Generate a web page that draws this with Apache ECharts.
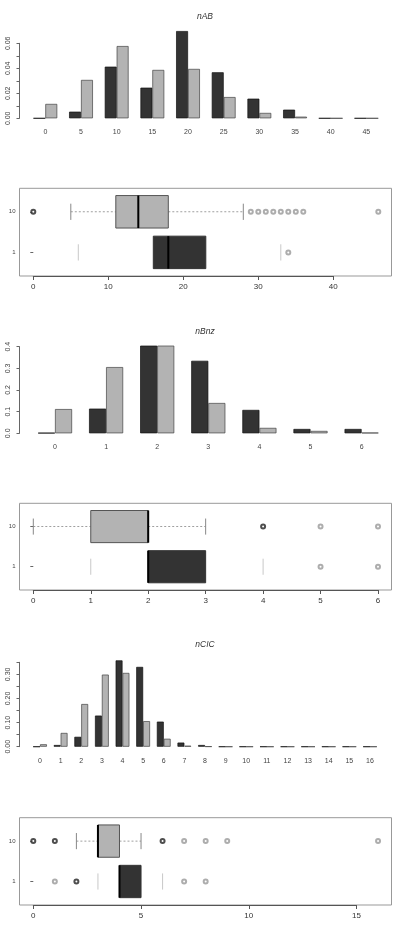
<!DOCTYPE html>
<html>
<head>
<meta charset="utf-8">
<title>nAB / nBnz / nCIC</title>
<style>
  html,body{margin:0;padding:0;background:#fff;}
  #main{width:395px;height:939px;}
</style>
<script src="https://cdn.jsdelivr.net/npm/echarts@6/dist/echarts.min.js"></script>
</head>
<body>
<div id="main"></div>
<script>
// ---- bar charts (relative frequency), dark = group "1", light = group "10"
var catAB = ['0','5','10','15','20','25','30','35','40','45'];
var darkAB = [0, 0.0053, 0.0413, 0.0245, 0.0698, 0.0368, 0.0157, 0.0069, 0, 0];
var lightAB = [0.0115, 0.0307, 0.0578, 0.0387, 0.0395, 0.0170, 0.0043, 0.0013, 0, 0];
var ticksAB = ['0.00', '', '0.02', '', '0.04', '', '0.06'];

var catBnz = ['0','1','2','3','4','5','6'];
var darkBnz = [0.002, 0.114, 0.405, 0.335, 0.108, 0.020, 0.020];
var lightBnz = [0.112, 0.306, 0.405, 0.140, 0.025, 0.011, 0.003];
var ticksBnz = ['0.0', '0.1', '0.2', '0.3', '0.4'];

var catCIC = ['0','1','2','3','4','5','6','7','8','9','10','11','12','13','14','15','16'];
var darkCIC = [0, 0.007, 0.041, 0.129, 0.358, 0.331, 0.104, 0.017, 0.007, 0, 0, 0, 0, 0, 0, 0, 0];
var lightCIC = [0.010, 0.057, 0.177, 0.299, 0.306, 0.106, 0.033, 0.004, 0.001, 0, 0, 0, 0, 0, 0, 0, 0];
var ticksCIC = ['0.00', '', '0.10', '', '0.20', '', '0.30', ''];

// ---- boxplots: [lower whisker, Q1, median, Q3, upper whisker]
var boxGroups = ['1', '10'];   // bottom, top
var boxAB_dark = [6, 16, 18, 23, 33];
var boxAB_light = [5, 11, 14, 18, 28];
var outAB_dark = [34];
var outAB_light = [29, 30, 31, 32, 33, 34, 35, 36, 46];
var denseAB_light = [0];

var boxBnz_dark = [1, 2, 2, 3, 4];
var boxBnz_light = [0, 1, 2, 2, 3];
var outBnz_dark = [5, 6];
var outBnz_light = [5, 6];
var denseBnz_light = [4];

var boxCIC_dark = [3, 4, 4, 5, 6];
var boxCIC_light = [2, 3, 3, 4, 5];
var outCIC_dark = [1, 7, 8];
var denseCIC_dark = [2];
var outCIC_light = [7, 8, 9, 16];
var denseCIC_light = [0, 1, 6];

var DARK = '#333333', LIGHT = '#b3b3b3';
var FONT = 'Liberation Sans, Arial, sans-serif';

var grid = [], xAxis = [], yAxis = [], series = [], graphic = [];

function addGrid(g) { grid.push(g); return grid.length - 1; }

function barPanel(title, cats, dark, light, ticks, P) {
  var gb = addGrid({left: P.left, top: P.top, width: P.width, height: P.height});
  xAxis.push({gridIndex: gb, type: 'category', data: cats,
    axisLine: {show: false}, axisTick: {show: false},
    axisLabel: {interval: 0, fontSize: 7, margin: P.lm, color: '#444', fontFamily: FONT}});
  yAxis.push({gridIndex: gb, type: 'value', min: 0, max: P.max, show: false});
  series.push({type: 'bar', xAxisIndex: gb, yAxisIndex: gb, data: dark, silent: true,
    barGap: '0%', barCategoryGap: '33.3%',
    itemStyle: {color: DARK, borderColor: '#111', borderWidth: 0.7}});
  series.push({type: 'bar', xAxisIndex: gb, yAxisIndex: gb, data: light, silent: true,
    barGap: '0%', barCategoryGap: '33.3%',
    itemStyle: {color: LIGHT, borderColor: '#444', borderWidth: 0.7}});

  // visible y axis, only over the tick range (R style)
  var ga = addGrid({left: 19.5, top: P.atop, width: 300, height: P.aheight});
  xAxis.push({gridIndex: ga, type: 'value', show: false, min: 0, max: 1});
  yAxis.push({gridIndex: ga, type: 'value', min: 0, max: P.amax, interval: P.aint,
    splitLine: {show: false},
    axisLine: {show: true, lineStyle: {color: '#666', width: 1}},
    axisTick: {show: true, length: 3, lineStyle: {color: '#666'}},
    axisLabel: {rotate: 90, fontSize: 7, margin: 8, color: '#444', fontFamily: FONT,
      formatter: function (v, i) { return ticks[i]; }}});

  graphic.push({type: 'text', x: 205, y: P.ty, silent: true,
    style: {text: title, textAlign: 'center', verticalAlign: 'middle',
      font: 'italic 8.5px ' + FONT, fill: '#333'}});
}

function boxSeries(gd, row, stats, st) {
  return {type: 'custom', xAxisIndex: gd, yAxisIndex: gd, silent: true,
    data: [[row].concat(stats)],
    encode: {x: [1, 2, 3, 4, 5], y: 0},
    renderItem: function (params, api) {
      var c = api.value(0);
      var lo = api.coord([api.value(1), c]);
      var q1 = api.coord([api.value(2), c]);
      var md = api.coord([api.value(3), c]);
      var q3 = api.coord([api.value(4), c]);
      var hi = api.coord([api.value(5), c]);
      var h = api.size([0, 1])[1] * 0.4;
      var cap = h * 0.5;
      var y = lo[1];
      var kids = [];
      if (st.whisker) {
        var ws = {stroke: st.whisker, lineWidth: 0.8, lineDash: [2, 2]};
        kids.push({type: 'line', shape: {x1: lo[0], y1: y, x2: q1[0], y2: y}, style: ws});
        kids.push({type: 'line', shape: {x1: q3[0], y1: y, x2: hi[0], y2: y}, style: ws});
      }
      var cs = {stroke: st.cap, lineWidth: 1};
      kids.push({type: 'line', shape: {x1: lo[0], y1: y - cap, x2: lo[0], y2: y + cap}, style: cs});
      kids.push({type: 'line', shape: {x1: hi[0], y1: y - cap, x2: hi[0], y2: y + cap}, style: cs});
      kids.push({type: 'rect', shape: {x: q1[0], y: y - h, width: q3[0] - q1[0], height: 2 * h},
        style: {fill: st.fill, stroke: st.border, lineWidth: 1}});
      kids.push({type: 'line', shape: {x1: md[0], y1: y - h, x2: md[0], y2: y + h},
        style: {stroke: '#000', lineWidth: 2}});
      return {type: 'group', children: kids};
    }};
}

function outSeries(gd, row, vals, dense) {
  return {type: 'scatter', xAxisIndex: gd, yAxisIndex: gd, silent: true, clip: false,
    symbol: 'emptyCircle', symbolSize: dense ? 4 : 4,
    itemStyle: {color: dense ? '#222' : '#999', borderWidth: dense ? 1.6 : 0.6},
    data: vals.map(function (v) { return [v, row]; })};
}

function boxPanel(rows, P) {
  var gf = addGrid({left: 19.5, top: P.ftop, width: 372, height: P.fheight,
    show: true, borderColor: '#999', borderWidth: 1});
  xAxis.push({gridIndex: gf, type: 'value', show: false, min: 0, max: 1});
  yAxis.push({gridIndex: gf, type: 'value', show: false, min: 0, max: 1});

  var gd = addGrid({left: 33.3, top: P.top, width: P.width, height: P.height});
  xAxis.push({gridIndex: gd, type: 'value', min: 0, max: P.max, interval: P.interval,
    offset: P.xoff, splitLine: {show: false},
    axisLine: {show: true, onZero: false, lineStyle: {color: '#555'}},
    axisTick: {show: true, length: 4, lineStyle: {color: '#555'}},
    axisLabel: {fontSize: 8, margin: 7, color: '#333', fontFamily: FONT}});
  yAxis.push({gridIndex: gd, type: 'category', data: boxGroups, offset: 13.8,
    axisLine: {show: false},
    axisTick: {show: true, alignWithLabel: true, length: 3, lineStyle: {color: '#666'}},
    axisLabel: {fontSize: 6, margin: 4, color: '#444', fontFamily: FONT}});

  rows.forEach(function (r) {
    series.push(boxSeries(gd, r.row, r.stats, r.style));
    if (r.out) series.push(outSeries(gd, r.row, r.out, false));
    if (r.dense) series.push(outSeries(gd, r.row, r.dense, true));
  });
}

var lightStyle = {fill: LIGHT, border: '#555', whisker: '#888', cap: '#888'};
var darkStyle = {fill: DARK, border: DARK, whisker: null, cap: '#c8c8c8'};

// panel 1: nAB
barPanel('nAB', catAB, darkAB, lightAB, ticksAB,
  {left: 27.5, top: 30.8, width: 356.7, height: 87.5, max: 0.07, lm: 10,
   atop: 43.3, aheight: 75, amax: 0.06, aint: 0.01, ty: 16.7});
boxPanel([
  {row: 0, stats: boxAB_dark, style: darkStyle, out: outAB_dark},
  {row: 1, stats: boxAB_light, style: lightStyle, out: outAB_light, dense: denseAB_light}
], {ftop: 188.3, fheight: 87.7, top: 191.5, height: 81.2, width: 300, max: 40, interval: 10, xoff: 3.3});

// panel 2: nBnz
barPanel('nBnz', catBnz, darkBnz, lightBnz, ticksBnz,
  {left: 29.45, top: 342.4, width: 357.7, height: 90.9, max: 0.42, lm: 10,
   atop: 346.7, aheight: 86.6, amax: 0.4, aint: 0.1, ty: 331.7});
boxPanel([
  {row: 0, stats: boxBnz_dark, style: darkStyle, out: outBnz_dark},
  {row: 1, stats: boxBnz_light, style: lightStyle, out: outBnz_light, dense: denseBnz_light}
], {ftop: 503.3, fheight: 86.7, top: 506.5, height: 80.3, width: 344.7, max: 6, interval: 1, xoff: 3.2});

// panel 3: nCIC
barPanel('nCIC', catCIC, darkCIC, lightCIC, ticksCIC,
  {left: 29.7, top: 657.5, width: 350.6, height: 89.2, max: 0.37, lm: 10.5,
   atop: 662.3, aheight: 84.4, amax: 0.35, aint: 0.05, ty: 645});
boxPanel([
  {row: 0, stats: boxCIC_dark, style: darkStyle, out: outCIC_dark, dense: denseCIC_dark},
  {row: 1, stats: boxCIC_light, style: lightStyle, out: outCIC_light, dense: denseCIC_light}
], {ftop: 817.7, fheight: 87.3, top: 820.9, height: 80.8, width: 323.2, max: 15, interval: 5, xoff: 3.3});

var myChart = echarts.init(document.getElementById('main'), null, {renderer: 'canvas'});
myChart.setOption({
  animation: false,
  backgroundColor: '#fff',
  grid: grid,
  xAxis: xAxis,
  yAxis: yAxis,
  series: series,
  graphic: graphic
});
</script>
</body>
</html>
